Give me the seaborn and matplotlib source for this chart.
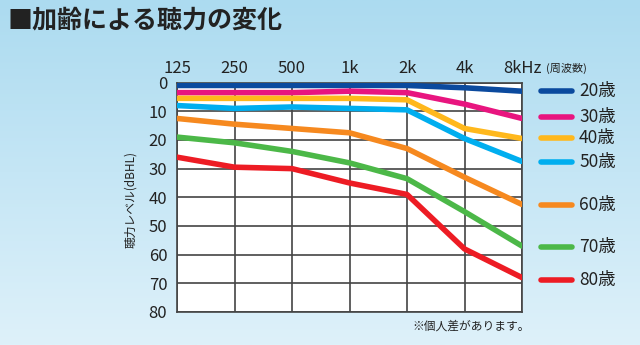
import numpy as np
import pandas as pd
import matplotlib
matplotlib.use("Agg")
import matplotlib.pyplot as plt
import seaborn as sns
from matplotlib.colors import LinearSegmentedColormap

sns.set_theme(style="white")
plt.rcParams['font.family'] = ['Noto Sans CJK JP', 'DejaVu Sans']

freqs = [125, 250, 500, 1000, 2000, 4000, 8000]
freq_labels = ["125", "250", "500", "1k", "2k", "4k", "8kHz"]
ages = ["20歳", "30歳", "40歳", "50歳", "60歳", "70歳", "80歳"]
v20 = [1, 1, 1, 1, 1, 1.8, 3]
v30 = [3.5, 3.5, 3.5, 3, 3.5, 7.5, 12.5]
v40 = [5.5, 5.5, 5.5, 5.5, 6, 16, 19.5]
v50 = [8, 9, 8.5, 9, 9.5, 19.5, 27.5]
v60 = [12.5, 14.5, 16, 17.5, 23, 33, 42.5]
v70 = [19, 21, 24, 28, 33.5, 45, 57]
v80 = [26, 29.5, 30, 35, 39, 58, 68]
series = [v20, v30, v40, v50, v60, v70, v80]
colors = ["#0b4a9e", "#e8157f", "#ffb81c", "#00aeef", "#f6891f", "#4cb848", "#ed1c24"]
legend_y = [91, 117, 138, 162, 205, 247, 280]

rows = []
for a, vals in zip(ages, series):
    for f, v in zip(freqs, vals):
        rows.append({"freq": f, "level": v, "age": a})
df = pd.DataFrame(rows)

W, H = 640, 345
fig = plt.figure(figsize=(6.4, 3.45), dpi=100)

# gradient background
bg = fig.add_axes([0, 0, 1, 1], zorder=-10)
cmap = LinearSegmentedColormap.from_list("bg", ["#acdbf0", "#def1fa"])
bg.imshow(np.linspace(0, 1, 256).reshape(-1, 1), aspect="auto", cmap=cmap,
          extent=[0, 1, 0, 1], origin="upper")
bg.set_axis_off()

ax = fig.add_axes([177 / W, 1 - 312 / H, (522 - 177) / W, (312 - 82.6) / H])
ax.set_facecolor("white")
sns.lineplot(data=df, x="freq", y="level", hue="age", palette=colors,
             linewidth=4.0, legend=False, ax=ax, zorder=3)
ax.set_xscale("log", base=2)
ax.set_xlim(125, 8000)
ax.set_ylim(80, 0)
ax.set_xticks(freqs)
ax.set_xticklabels(freq_labels)
ax.minorticks_off()
ax.set_yticks(range(0, 81, 10))
ax.xaxis.tick_top()
ax.tick_params(axis="both", length=0, labelsize=12, colors="#222222")
ax.tick_params(axis="x", pad=4)
ax.tick_params(axis="y", pad=7)
ax.grid(True, color="#444444", linewidth=1.2)
ax.set_axisbelow(True)
for s in ax.spines.values():
    s.set_color("#444444")
    s.set_linewidth(1.2)
ax.set_xlabel("")
ax.set_ylabel("")

fig.text(131 / W, 1 - 199 / H, "聴力レベル(dBHL)", rotation=90, ha="center",
         va="center", fontsize=8.5, color="#222222")
fig.text(546 / W, 1 - 68 / H, "(周波数)", ha="left", va="center",
         fontsize=8, color="#222222")
fig.text(8 / W, 1 - 20 / H, "■加齢による聴力の変化", ha="left", va="center",
         fontsize=18, fontweight="bold", color="#222222")
fig.text(412 / W, 1 - 326 / H, "※個人差があります。", ha="left", va="center",
         fontsize=8.5, color="#222222")

# custom legend
for a, c, y in zip(ages, colors, legend_y):
    fy = 1 - y / H
    fig.add_artist(plt.Line2D([541 / W, 572 / W], [fy, fy], color=c,
                              linewidth=4, transform=fig.transFigure))
    fig.text(579 / W, fy, a, ha="left", va="center", fontsize=12.5,
             color="#222222")

fig.savefig("out.png", dpi=100)
